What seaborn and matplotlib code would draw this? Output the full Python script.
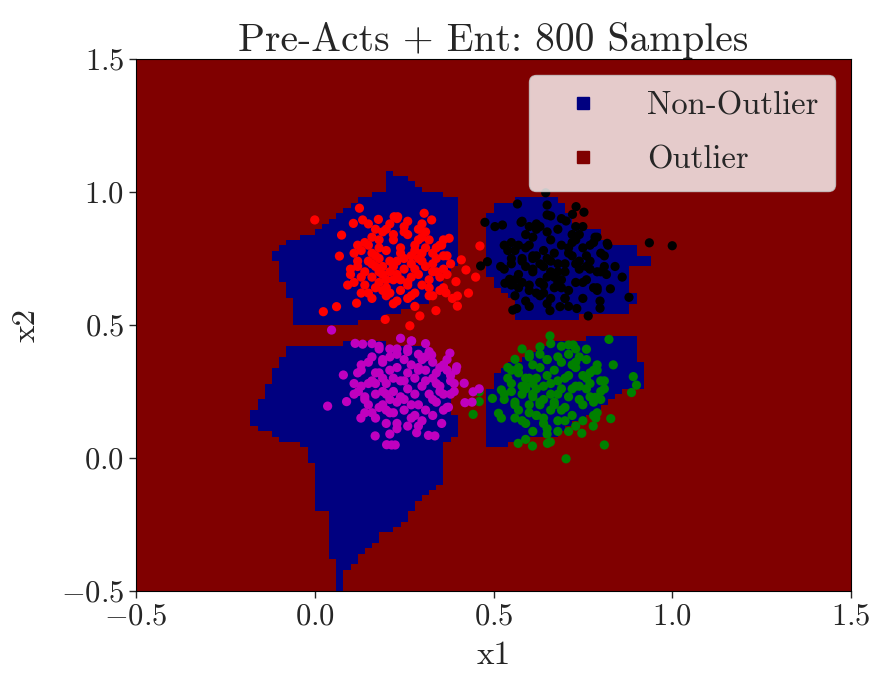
import numpy as np
import pandas as pd
import matplotlib
matplotlib.use("Agg")
import matplotlib.pyplot as plt
from matplotlib.path import Path
from matplotlib.lines import Line2D
import seaborn as sns

# ---------------- data ----------------
title = "Pre-Acts + Ent: 800 Samples"
class_labels = ["Non-Outlier", "Outlier"]
cluster_names = ["red", "black", "green", "magenta"]
cluster_colors = ["#ff0000", "#000000", "#008000", "#bf00bf"]

red_x = [0.000, 0.125, 0.024, 0.061, 0.117, 0.197, 0.266, 0.294, 0.339, 0.399, 0.399, 0.385, 0.367, 0.423, 0.462,
         0.395, 0.376, 0.306, 0.327, 0.222, 0.232, 0.178, 0.134, 0.108, 0.075, 0.069, 0.092, 0.450, 0.430, 0.410,
         0.360, 0.355,
         0.15, 0.17, 0.19, 0.21, 0.23, 0.25, 0.27, 0.29, 0.31, 0.33, 0.20, 0.22, 0.24, 0.26, 0.28, 0.30, 0.32, 0.18,
         0.20, 0.22, 0.24, 0.26, 0.28, 0.30, 0.32, 0.14, 0.16, 0.12, 0.13, 0.19, 0.21, 0.25, 0.29, 0.34, 0.35, 0.27,
         0.23, 0.25, 0.21, 0.19, 0.24, 0.28, 0.17, 0.31, 0.26, 0.23, 0.20, 0.15, 0.33, 0.36, 0.11, 0.10, 0.16, 0.27,
         0.22, 0.29, 0.18,
         0.10, 0.12, 0.14, 0.16, 0.18, 0.30, 0.32, 0.34, 0.36, 0.38, 0.11, 0.13, 0.15, 0.17, 0.33, 0.35, 0.37, 0.14,
         0.16, 0.18, 0.20, 0.22, 0.26, 0.28, 0.30, 0.32, 0.15, 0.19, 0.23, 0.27, 0.31, 0.35, 0.12, 0.37, 0.13, 0.36,
         0.17, 0.21, 0.25, 0.29, 0.33, 0.18, 0.22, 0.26, 0.30, 0.34, 0.16, 0.24, 0.28, 0.20]
red_y = [0.895, 0.939, 0.550, 0.569, 0.582, 0.521, 0.497, 0.534, 0.554, 0.571, 0.609, 0.600, 0.621, 0.707, 0.797,
         0.663, 0.826, 0.920, 0.895, 0.907, 0.907, 0.897, 0.895, 0.882, 0.838, 0.759, 0.650, 0.680, 0.620, 0.745,
         0.760, 0.800,
         0.80, 0.76, 0.72, 0.70, 0.74, 0.71, 0.73, 0.69, 0.72, 0.70, 0.78, 0.82, 0.79, 0.84, 0.80, 0.77, 0.82, 0.66,
         0.64, 0.67, 0.63, 0.66, 0.62, 0.65, 0.64, 0.70, 0.68, 0.74, 0.78, 0.85, 0.88, 0.87, 0.86, 0.75, 0.68, 0.76,
         0.69, 0.75, 0.74, 0.69, 0.77, 0.71, 0.72, 0.79, 0.60, 0.59, 0.61, 0.62, 0.61, 0.71, 0.66, 0.71, 0.83, 0.68,
         0.72, 0.75, 0.79,
         0.69, 0.72, 0.65, 0.77, 0.82, 0.83, 0.67, 0.79, 0.64, 0.73, 0.77, 0.62, 0.74, 0.86, 0.73, 0.80, 0.69, 0.81,
         0.60, 0.70, 0.86, 0.58, 0.89, 0.57, 0.88, 0.61, 0.88, 0.63, 0.90, 0.61, 0.85, 0.63, 0.80, 0.76, 0.68, 0.82,
         0.64, 0.62, 0.85, 0.82, 0.77, 0.75, 0.84, 0.65, 0.74, 0.70, 0.73, 0.67, 0.78, 0.67]

black_x = [0.646, 0.567, 0.650, 0.731, 0.753, 0.721, 0.650, 0.476, 0.504, 0.525, 0.577, 0.703, 0.936, 1.000, 0.464,
           0.483, 0.532, 0.545, 0.554, 0.565, 0.658, 0.765, 0.798, 0.879, 0.827, 0.816, 0.818, 0.784, 0.686, 0.733,
           0.798,
           0.60, 0.62, 0.64, 0.66, 0.68, 0.70, 0.72, 0.74, 0.61, 0.63, 0.65, 0.67, 0.69, 0.71, 0.73, 0.58, 0.56, 0.59,
           0.62, 0.66, 0.69, 0.72, 0.75, 0.77, 0.79, 0.76, 0.63, 0.66, 0.70, 0.60, 0.57, 0.55, 0.53, 0.81, 0.84, 0.86,
           0.64, 0.67, 0.65, 0.68, 0.63, 0.70, 0.61, 0.66, 0.74, 0.71, 0.64, 0.68, 0.58, 0.52, 0.55, 0.79, 0.82, 0.60,
           0.62, 0.75,
           0.53, 0.55, 0.57, 0.59, 0.61, 0.73, 0.75, 0.77, 0.79, 0.81, 0.54, 0.56, 0.58, 0.60, 0.76, 0.78, 0.80, 0.57,
           0.59, 0.61, 0.63, 0.65, 0.69, 0.71, 0.73, 0.75, 0.58, 0.62, 0.66, 0.70, 0.74, 0.78, 0.55, 0.80, 0.56, 0.79,
           0.60, 0.64, 0.68, 0.72, 0.76, 0.61, 0.65, 0.69, 0.73, 0.77, 0.59, 0.67, 0.71, 0.63]
black_y = [0.997, 0.955, 0.951, 0.945, 0.924, 0.916, 0.914, 0.886, 0.870, 0.876, 0.886, 0.891, 0.809, 0.798, 0.722,
           0.738, 0.657, 0.672, 0.556, 0.562, 0.554, 0.534, 0.563, 0.604, 0.636, 0.690, 0.807, 0.830, 0.569, 0.562,
           0.590,
           0.80, 0.76, 0.72, 0.74, 0.70, 0.73, 0.76, 0.71, 0.70, 0.66, 0.68, 0.64, 0.67, 0.63, 0.66, 0.74, 0.78, 0.84,
           0.86, 0.82, 0.80, 0.84, 0.79, 0.74, 0.70, 0.67, 0.61, 0.60, 0.60, 0.63, 0.69, 0.73, 0.80, 0.76, 0.72, 0.68,
           0.78, 0.77, 0.75, 0.73, 0.73, 0.70, 0.75, 0.70, 0.74, 0.77, 0.65, 0.66, 0.66, 0.72, 0.65, 0.64, 0.80, 0.57,
           0.88, 0.87,
           0.71, 0.75, 0.64, 0.79, 0.83, 0.82, 0.66, 0.80, 0.63, 0.72, 0.78, 0.61, 0.75, 0.87, 0.72, 0.81, 0.70, 0.80,
           0.59, 0.71, 0.87, 0.58, 0.90, 0.57, 0.87, 0.60, 0.89, 0.62, 0.91, 0.60, 0.84, 0.64, 0.81, 0.77, 0.67, 0.83,
           0.65, 0.62, 0.86, 0.81, 0.76, 0.76, 0.85, 0.64, 0.73, 0.71, 0.72, 0.68, 0.79, 0.66]

green_x = [0.658, 0.823, 0.835, 0.891, 0.900, 0.886, 0.828, 0.810, 0.703, 0.609, 0.569, 0.651, 0.659, 0.522, 0.497,
           0.460, 0.460, 0.443, 0.514, 0.522, 0.560, 0.630, 0.747, 0.779, 0.786, 0.784, 0.723, 0.760, 0.710,
           0.60, 0.62, 0.64, 0.66, 0.68, 0.70, 0.72, 0.74, 0.58, 0.60, 0.62, 0.64, 0.66, 0.68, 0.70, 0.72, 0.63, 0.65,
           0.67, 0.69, 0.71, 0.73, 0.75, 0.77, 0.76, 0.79, 0.81, 0.57, 0.55, 0.56, 0.58, 0.61, 0.65, 0.68, 0.62, 0.64,
           0.66, 0.68, 0.63, 0.67, 0.61, 0.69, 0.65, 0.59, 0.71, 0.60, 0.54, 0.53, 0.74, 0.78, 0.80, 0.73, 0.59,
           0.53, 0.55, 0.57, 0.59, 0.61, 0.73, 0.75, 0.77, 0.79, 0.81, 0.54, 0.56, 0.58, 0.60, 0.76, 0.78, 0.80, 0.57,
           0.59, 0.61, 0.63, 0.65, 0.69, 0.71, 0.73, 0.75, 0.58, 0.62, 0.66, 0.70, 0.74, 0.78, 0.55, 0.80, 0.56, 0.79,
           0.60, 0.64, 0.68, 0.72, 0.76, 0.61, 0.65, 0.69, 0.73, 0.77, 0.59, 0.67, 0.71, 0.63]
green_y = [0.459, 0.446, 0.350, 0.306, 0.274, 0.246, 0.148, 0.049, -0.003, 0.045, 0.055, 0.055, 0.060, 0.256, 0.224,
           0.249, 0.212, 0.164, 0.168, 0.150, 0.371, 0.418, 0.093, 0.120, 0.150, 0.228, 0.425, 0.409, 0.425,
           0.30, 0.26, 0.22, 0.28, 0.24, 0.30, 0.26, 0.22, 0.24, 0.20, 0.16, 0.13, 0.18, 0.14, 0.19, 0.16, 0.34, 0.37,
           0.33, 0.36, 0.39, 0.34, 0.31, 0.28, 0.37, 0.33, 0.29, 0.32, 0.28, 0.20, 0.14, 0.10, 0.09, 0.10, 0.30, 0.27,
           0.24, 0.29, 0.21, 0.21, 0.24, 0.26, 0.31, 0.27, 0.23, 0.38, 0.34, 0.24, 0.27, 0.21, 0.25, 0.12, 0.07,
           0.22, 0.25, 0.18, 0.30, 0.35, 0.36, 0.20, 0.32, 0.17, 0.26, 0.30, 0.15, 0.27, 0.39, 0.26, 0.33, 0.22, 0.34,
           0.13, 0.23, 0.39, 0.11, 0.42, 0.10, 0.41, 0.14, 0.41, 0.16, 0.43, 0.14, 0.38, 0.16, 0.33, 0.29, 0.21, 0.35,
           0.17, 0.15, 0.38, 0.35, 0.30, 0.28, 0.37, 0.18, 0.27, 0.23, 0.26, 0.20, 0.31, 0.20]

magenta_x = [0.047, 0.271, 0.113, 0.134, 0.378, 0.327, 0.397, 0.395, 0.418, 0.443, 0.420, 0.374, 0.355, 0.336, 0.318,
             0.285, 0.215, 0.201, 0.225, 0.169, 0.036, 0.080, 0.089, 0.129, 0.122, 0.440, 0.460,
             0.18, 0.20, 0.22, 0.24, 0.26, 0.28, 0.30, 0.32, 0.19, 0.21, 0.23, 0.25, 0.27, 0.29, 0.31, 0.33, 0.35, 0.17,
             0.19, 0.21, 0.23, 0.25, 0.27, 0.29, 0.31, 0.34, 0.36, 0.15, 0.13, 0.16, 0.14, 0.20, 0.23, 0.26, 0.22, 0.24,
             0.26, 0.20, 0.28, 0.25, 0.21, 0.29, 0.38, 0.37, 0.23, 0.26, 0.18, 0.11, 0.16, 0.33, 0.30, 0.39, 0.21,
             0.11, 0.13, 0.15, 0.17, 0.19, 0.31, 0.33, 0.35, 0.37, 0.39, 0.12, 0.14, 0.16, 0.18, 0.34, 0.36, 0.38, 0.15,
             0.17, 0.19, 0.21, 0.23, 0.27, 0.29, 0.31, 0.33, 0.16, 0.20, 0.24, 0.28, 0.32, 0.36, 0.13, 0.38, 0.14, 0.37,
             0.18, 0.22, 0.26, 0.30, 0.34, 0.19, 0.23, 0.27, 0.31, 0.35, 0.17, 0.25, 0.29, 0.21]
magenta_y = [0.481, 0.440, 0.431, 0.428, 0.394, 0.387, 0.343, 0.330, 0.281, 0.249, 0.208, 0.191, 0.130, 0.083, 0.085,
             0.095, 0.049, 0.050, 0.049, 0.083, 0.195, 0.312, 0.212, 0.150, 0.250, 0.210, 0.260,
             0.32, 0.28, 0.25, 0.29, 0.26, 0.30, 0.27, 0.24, 0.36, 0.38, 0.34, 0.37, 0.35, 0.39, 0.33, 0.30, 0.27, 0.24,
             0.20, 0.17, 0.21, 0.18, 0.15, 0.20, 0.18, 0.21, 0.24, 0.28, 0.33, 0.38, 0.22, 0.13, 0.11, 0.12, 0.30, 0.23,
             0.32, 0.24, 0.24, 0.29, 0.33, 0.34, 0.29, 0.33, 0.41, 0.41, 0.42, 0.28, 0.17, 0.36, 0.14, 0.25, 0.09,
             0.24, 0.27, 0.20, 0.32, 0.37, 0.38, 0.22, 0.34, 0.19, 0.28, 0.32, 0.17, 0.29, 0.41, 0.28, 0.35, 0.24, 0.36,
             0.15, 0.25, 0.41, 0.13, 0.44, 0.12, 0.43, 0.16, 0.43, 0.18, 0.45, 0.16, 0.40, 0.18, 0.35, 0.31, 0.23, 0.37,
             0.19, 0.17, 0.40, 0.37, 0.32, 0.30, 0.39, 0.20, 0.29, 0.25, 0.28, 0.22, 0.33, 0.22]

# Non-outlier (blue) decision regions, outlines
region_a = [(0.194, 1.083), (0.215, 1.083), (0.215, 1.058), (0.276, 1.045), (0.308, 1.008), (0.350, 0.996),
            (0.406, 0.964), (0.406, 0.744), (0.388, 0.707), (0.350, 0.644), (0.332, 0.594), (0.275, 0.569),
            (0.210, 0.531), (0.099, 0.506), (-0.050, 0.506), (-0.069, 0.531), (-0.069, 0.594), (-0.088, 0.619),
            (-0.092, 0.707), (-0.111, 0.744), (-0.130, 0.763), (-0.111, 0.782), (-0.069, 0.820), (-0.032, 0.838),
            (0.015, 0.857), (0.052, 0.901), (0.136, 0.982), (0.173, 0.995), (0.194, 1.008)]
region_b = [(0.569, 0.982), (0.677, 0.982), (0.686, 0.964), (0.714, 0.920), (0.723, 0.864), (0.793, 0.851),
            (0.798, 0.820), (0.845, 0.801), (0.910, 0.801), (0.910, 0.760), (0.950, 0.760), (0.950, 0.726),
            (0.887, 0.713), (0.891, 0.600), (0.910, 0.597), (0.910, 0.590), (0.887, 0.575), (0.887, 0.544),
            (0.733, 0.538), (0.733, 0.525), (0.569, 0.525), (0.569, 0.569), (0.527, 0.632), (0.495, 0.632),
            (0.495, 0.669), (0.471, 0.682), (0.471, 0.920), (0.490, 0.920), (0.490, 0.964), (0.569, 0.964)]
region_c = [(0.756, 0.459), (0.891, 0.459), (0.891, 0.350), (0.915, 0.350), (0.915, 0.300), (0.928, 0.300),
            (0.928, 0.268), (0.873, 0.262), (0.854, 0.237), (0.817, 0.218), (0.779, 0.168), (0.714, 0.118),
            (0.686, 0.086), (0.593, 0.068), (0.527, 0.043), (0.490, 0.043), (0.490, 0.024), (0.470, 0.024),
            (0.470, 0.143), (0.490, 0.268), (0.513, 0.324), (0.546, 0.356), (0.593, 0.381), (0.607, 0.400),
            (0.677, 0.437), (0.756, 0.437)]
region_d = [(-0.069, 0.425), (0.089, 0.425), (0.089, 0.444), (0.210, 0.444), (0.210, 0.425), (0.313, 0.425),
            (0.350, 0.343), (0.388, 0.337), (0.388, 0.156), (0.406, 0.143), (0.388, 0.068), (0.369, 0.055),
            (0.369, -0.045), (0.350, -0.100), (0.317, -0.120), (0.294, -0.158), (0.271, -0.202), (0.248, -0.239),
            (0.229, -0.264), (0.192, -0.283), (0.150, -0.339), (0.131, -0.365), (0.113, -0.396), (0.089, -0.421),
            (0.071, -0.440), (0.071, -0.500), (0.052, -0.500), (0.052, -0.383), (0.031, -0.383), (0.031, -0.200),
            (0.010, -0.200), (0.000, -0.160), (0.010, -0.120), (0.010, -0.050), (0.000, -0.030), (-0.030, 0.000),
            (-0.030, 0.050), (-0.069, 0.060), (-0.111, 0.080), (-0.130, 0.100), (-0.167, 0.115), (-0.187, 0.120),
            (-0.187, 0.160), (-0.167, 0.190), (-0.148, 0.220), (-0.130, 0.280), (-0.111, 0.340), (-0.088, 0.380)]
regions = [region_a, region_b, region_c, region_d]

# ---------------- style ----------------
sns.set_style("ticks")
plt.rcParams["font.family"] = ["cmr10", "DejaVu Serif"]
plt.rcParams["mathtext.fontset"] = "cm"
plt.rcParams["axes.formatter.use_mathtext"] = True
plt.rcParams["axes.unicode_minus"] = True

fig = plt.figure(figsize=(8.74, 6.73), dpi=100)
ax = fig.add_axes([136 / 874, 1 - 591 / 673, (851 - 136) / 874, (591 - 59) / 673])

# decision grid (0.02 resolution)
edges = np.linspace(-0.5, 1.5, 101)
centers = (edges[:-1] + edges[1:]) / 2
gx, gy = np.meshgrid(centers, centers)
pts = np.column_stack([gx.ravel(), gy.ravel()])
inside = np.zeros(len(pts), dtype=bool)
for poly in regions:
    inside |= Path(poly).contains_points(pts)
zz = np.where(inside, 0.0, 1.0).reshape(gx.shape)
ax.pcolormesh(edges, edges, zz, cmap="jet", vmin=0, vmax=1, shading="flat")

frames = []
for name, xs, ys in [("red", red_x, red_y), ("black", black_x, black_y),
                     ("green", green_x, green_y), ("magenta", magenta_x, magenta_y)]:
    frames.append(pd.DataFrame({"x1": xs, "x2": ys, "cluster": name}))
df = pd.concat(frames, ignore_index=True)
sns.scatterplot(data=df, x="x1", y="x2", hue="cluster", hue_order=cluster_names,
                palette=cluster_colors, s=44, linewidth=0, legend=False, ax=ax)

ax.set_xlim(-0.5, 1.5)
ax.set_ylim(-0.5, 1.5)
ax.set_xticks([-0.5, 0.0, 0.5, 1.0, 1.5])
ax.set_yticks([-0.5, 0.0, 0.5, 1.0, 1.5])
ax.xaxis.set_major_formatter(matplotlib.ticker.FuncFormatter(lambda v, p: f"${v:.1f}$"))
ax.yaxis.set_major_formatter(matplotlib.ticker.FuncFormatter(lambda v, p: f"${v:.1f}$"))
ax.tick_params(labelsize=22, length=5, width=1)
ax.set_xlabel("x1", fontsize=24, labelpad=8)
ax.set_ylabel("x2", fontsize=24, labelpad=15)
ax.set_title(title, fontsize=28.5, pad=6)
for sp in ax.spines.values():
    sp.set_color("black")

cmap = plt.get_cmap("jet")
handles = [Line2D([], [], marker="s", linestyle="None", color=cmap(0.0), markersize=9),
           Line2D([], [], marker="s", linestyle="None", color=cmap(1.0), markersize=9)]
ax.legend(handles, class_labels, loc="upper right", fontsize=23.5, handletextpad=0.8,
          handlelength=2.3, framealpha=0.8, facecolor="white", edgecolor="#cccccc",
          borderaxespad=0.5, borderpad=0.5, labelspacing=0.75)

fig.savefig("out.png", dpi=100)
